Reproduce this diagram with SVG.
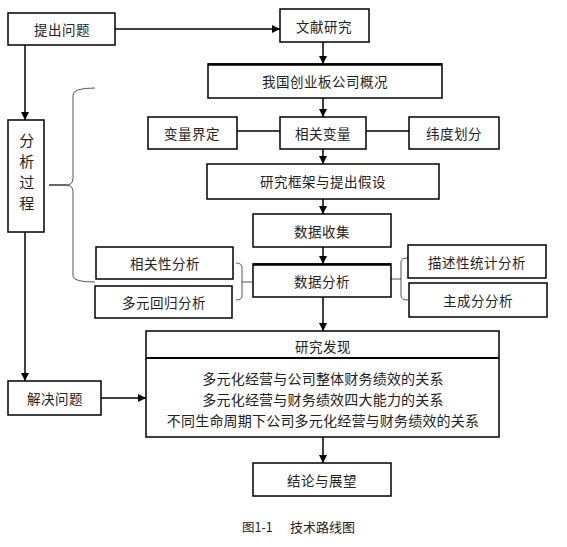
<svg xmlns="http://www.w3.org/2000/svg" width="567" height="547" viewBox="0 0 567 547">
<style>
.b{fill:#fff;stroke:#000;stroke-width:1.5}
.t{font-family:"Noto Sans CJK SC","Liberation Sans",sans-serif;font-size:13.5px;fill:#222;text-anchor:middle;dominant-baseline:central;letter-spacing:0.5px}
.s{font-family:"Noto Sans CJK SC","Liberation Serif",serif;font-size:14px;fill:#222;text-anchor:middle;dominant-baseline:central;letter-spacing:0.2px}
.c{stroke:#000;stroke-width:1.5;fill:none}
.br{stroke:#555;stroke-width:1;fill:none}
</style>
<defs>
<marker id="ah" viewBox="0 0 10 10" refX="10" refY="5" markerWidth="8" markerHeight="8" markerUnits="userSpaceOnUse" orient="auto">
<path d="M0,0 L10,5 L0,10 z" fill="#000"/>
</marker>
</defs>
<g id="connectors">
<path class="c" d="M115,29 H280" marker-end="url(#ah)"/>
<path class="c" d="M25,45 V120" marker-end="url(#ah)"/>
<path class="c" d="M25,232 V381" marker-end="url(#ah)"/>
<path class="c" d="M101,398 H146" marker-end="url(#ah)"/>
<path class="c" d="M323,42 V64" marker-end="url(#ah)"/>
<path class="c" d="M323,98 V117" marker-end="url(#ah)"/>
<path class="c" d="M323,149 V164" marker-end="url(#ah)"/>
<path class="c" d="M323,199 V214" marker-end="url(#ah)"/>
<path class="c" d="M323,247 V264" marker-end="url(#ah)"/>
<path class="c" d="M323,297 V331" marker-end="url(#ah)"/>
<path class="c" d="M323,437 V463" marker-end="url(#ah)"/>
<path class="c" d="M237,131 H280"/>
<path class="c" d="M366,131 H409"/>
<path class="br" d="M95,88 Q73,88 73,95 V178 Q73,185 66,185 Q73,185 73,192 V276 Q73,282 95,282"/>
<path class="c" d="M49,185 H66" style="stroke-width:1.2"/>
<path class="br" d="M236,263 Q242,263 242,268 V296 Q242,300 236,300"/>
<path class="br" d="M242,282 H253"/>
<path class="br" d="M408,258 Q401,258 401,262 V296 Q401,300 408,300"/>
<path class="br" d="M391,279 H401"/>
</g>
<g id="n-tichu"><rect class="b" x="8" y="13" width="107" height="32"/><text class="t" x="62" y="29">提出问题</text></g>
<g id="n-wenxian"><rect class="b" x="280" y="9" width="89" height="33"/><text class="t" x="324" y="26">文献研究</text></g>
<g id="n-gaikuang"><rect class="b" x="208" y="64" width="234" height="34"/><path d="M208,64.5 H442" stroke="#000" stroke-width="2.5"/><text class="t" x="325" y="81">我国创业板公司概况</text></g>
<g id="n-bianliangjieding"><rect class="b" x="148" y="117" width="89" height="32"/><text class="t" x="192" y="133">变量界定</text></g>
<g id="n-xiangguanbianliang"><rect class="b" x="280" y="117" width="86" height="32"/><text class="t" x="323" y="133">相关变量</text></g>
<g id="n-weidu"><rect class="b" x="409" y="117" width="90" height="32"/><text class="t" x="454" y="133">纬度划分</text></g>
<g id="n-kuangjia"><rect class="b" x="207" y="164" width="232" height="35"/><text class="t" x="323" y="181">研究框架与提出假设</text></g>
<g id="n-shoujie"><rect class="b" x="253" y="214" width="138" height="33"/><text class="t" x="322" y="231">数据收集</text></g>
<g id="n-fenxi"><rect class="b" x="253" y="264" width="138" height="33"/><path d="M253,264.5 H391" stroke="#000" stroke-width="2.5"/><text class="t" x="322" y="281">数据分析</text></g>
<g id="n-xiangguanxing"><rect class="b" x="96" y="247" width="137" height="32"/><text class="t" x="165" y="263">相关性分析</text></g>
<g id="n-duoyuan"><rect class="b" x="95" y="286" width="137" height="32"/><text class="t" x="164" y="302">多元回归分析</text></g>
<g id="n-miaoshu"><rect class="b" x="408" y="245" width="138" height="33"/><text class="t" x="477" y="262">描述性统计分析</text></g>
<g id="n-zhucheng"><rect class="b" x="409" y="283" width="138" height="34"/><text class="t" x="478" y="300">主成分分析</text></g>
<g id="n-guocheng"><rect class="b" x="8" y="120" width="36" height="112"/>
<text class="t" x="27" y="139" style="font-size:15px">分</text>
<text class="t" x="27" y="160" style="font-size:15px">析</text>
<text class="t" x="27" y="181" style="font-size:15px">过</text>
<text class="t" x="27" y="202" style="font-size:15px">程</text></g>
<g id="n-jiejue"><rect class="b" x="8" y="381" width="93" height="34"/><text class="t" x="55" y="398">解决问题</text></g>
<g id="n-faxian"><rect class="b" x="146" y="331" width="353" height="106"/><path d="M146,358 H499" stroke="#000" stroke-width="2"/>
<text class="t" x="323" y="346">研究发现</text>
<text class="s" x="323" y="378">多元化经营与公司整体财务绩效的关系</text>
<text class="s" x="323" y="399">多元化经营与财务绩效四大能力的关系</text>
<text class="s" x="323" y="420">不同生命周期下公司多元化经营与财务绩效的关系</text></g>
<g id="n-jielun"><rect class="b" x="253" y="463" width="138" height="33"/><text class="t" x="322" y="480">结论与展望</text></g>
<g id="caption"><text x="242" y="532" style="font-family:'Noto Sans CJK SC','Liberation Serif',serif;font-size:12.5px;fill:#222">图1-1</text>
<text x="290" y="532" style="font-family:'Noto Sans CJK SC','Liberation Sans',sans-serif;font-size:13px;fill:#222">技术路线图</text></g>
</svg>
